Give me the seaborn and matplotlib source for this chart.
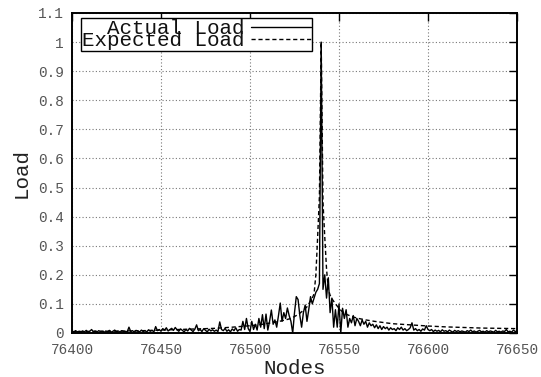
import matplotlib
matplotlib.use("Agg")
import matplotlib.pyplot as plt
import pandas as pd
import seaborn as sns

# ---------------- data ----------------
actual_nodes = list(range(76400, 76651))
actual_load = [
    0.005, 0.003, 0.008, 0.004, 0.006, 0.002, 0.007, 0.004, 0.009, 0.003,
    0.006, 0.012, 0.004, 0.007, 0.003, 0.008, 0.005, 0.006, 0.002, 0.007,
    0.004, 0.009, 0.003, 0.006, 0.010, 0.004, 0.007, 0.003, 0.008, 0.005,
    0.006, 0.004, 0.020, 0.005, 0.008, 0.003, 0.009, 0.006, 0.004, 0.010,
    0.005, 0.008, 0.004, 0.011, 0.006, 0.009, 0.004, 0.022, 0.008, 0.012,
    0.006, 0.015, 0.010, 0.018, 0.007, 0.012, 0.016, 0.009, 0.019, 0.011,
    0.006, 0.014, 0.009, 0.004, 0.012, 0.007, 0.016, 0.010, 0.005, 0.013,
    0.028, 0.008, 0.012, 0.005, 0.015, 0.009, 0.004, 0.013, 0.007, 0.011,
    0.006, 0.010, 0.005, 0.038, 0.012, 0.008, 0.016, 0.006, 0.011, 0.004,
    0.014, 0.008, 0.018, 0.006, 0.012, 0.010, 0.040, 0.012, 0.050, 0.015,
    0.005, 0.040, 0.012, 0.030, 0.010, 0.050, 0.020, 0.063, 0.015, 0.065,
    0.010, 0.040, 0.079, 0.030, 0.045, 0.020, 0.060, 0.103, 0.040, 0.070,
    0.050, 0.086, 0.060, 0.040, 0.000, 0.070, 0.125, 0.115, 0.060, 0.020,
    0.070, 0.096, 0.040, 0.080, 0.125, 0.100, 0.120, 0.140, 0.150, 0.170,
    1.000, 0.150, 0.200, 0.120, 0.190, 0.070, 0.120, 0.020, 0.080, 0.020,
    0.100, 0.000, 0.085, 0.050, 0.080, 0.020, 0.050, 0.035, 0.060, 0.025,
    0.050, 0.040, 0.025, 0.045, 0.030, 0.040, 0.020, 0.035, 0.025, 0.030,
    0.018, 0.028, 0.015, 0.025, 0.012, 0.022, 0.015, 0.020, 0.010, 0.018,
    0.012, 0.015, 0.008, 0.018, 0.012, 0.020, 0.010, 0.015, 0.008, 0.012,
    0.018, 0.035, 0.010, 0.015, 0.008, 0.012, 0.006, 0.014, 0.010, 0.025,
    0.012, 0.008, 0.012, 0.005, 0.010, 0.006, 0.009, 0.004, 0.011, 0.006,
    0.008, 0.004, 0.010, 0.006, 0.003, 0.009, 0.005, 0.008, 0.004, 0.007,
    0.005, 0.003, 0.008, 0.005, 0.010, 0.004, 0.007, 0.003, 0.006, 0.009,
    0.004, 0.006, 0.003, 0.008, 0.004, 0.007, 0.005, 0.003, 0.009, 0.004,
    0.006, 0.003, 0.007, 0.005, 0.012, 0.004, 0.006, 0.003, 0.010, 0.005, 0.007,
]

expected_nodes = [
    76400, 76420, 76440, 76450, 76460, 76470, 76480, 76490, 76500, 76505,
    76510, 76515, 76520, 76523, 76526, 76528, 76530, 76532, 76534, 76535,
    76536, 76537, 76538, 76539, 76540, 76541, 76542, 76543, 76544, 76545,
    76546, 76548, 76550, 76552, 76555, 76558, 76561, 76565, 76570, 76575,
    76580, 76590, 76600, 76610, 76620, 76630, 76640, 76650,
]
expected_load = [
    0.005, 0.006, 0.008, 0.010, 0.012, 0.014, 0.016, 0.020, 0.025, 0.028,
    0.033, 0.038, 0.045, 0.050, 0.060, 0.068, 0.078, 0.090, 0.110, 0.120,
    0.135, 0.200, 0.330, 0.470, 1.000, 0.450, 0.330, 0.220, 0.150, 0.130,
    0.118, 0.100, 0.085, 0.072, 0.062, 0.055, 0.050, 0.045, 0.040, 0.036,
    0.032, 0.028, 0.024, 0.021, 0.019, 0.017, 0.016, 0.015,
]

series_labels = ["  Actual Load", "Expected Load"]
x_ticks = [76400, 76450, 76500, 76550, 76600, 76650]
y_ticks = [0.0, 0.1, 0.2, 0.3, 0.4, 0.5, 0.6, 0.7, 0.8, 0.9, 1.0, 1.1]
y_tick_labels = ["0", "0.1", "0.2", "0.3", "0.4", "0.5", "0.6", "0.7",
                 "0.8", "0.9", "1", "1.1"]

# ---------------- style ----------------
sns.set_theme(style="white")
plt.rcParams["font.family"] = ["Liberation Mono", "DejaVu Sans Mono"]

fig, ax = plt.subplots(figsize=(5.41, 3.77), dpi=100)
fig.subplots_adjust(left=72 / 541, right=517 / 541,
                    top=1 - 13 / 377, bottom=1 - 333 / 377)

df_a = pd.DataFrame({"Nodes": actual_nodes, "Load": actual_load})
df_e = pd.DataFrame({"Nodes": expected_nodes, "Load": expected_load})

sns.lineplot(data=df_a, x="Nodes", y="Load", ax=ax, color="black",
             linewidth=1.0, label=series_labels[0], zorder=3)
sns.lineplot(data=df_e, x="Nodes", y="Load", ax=ax, color="black",
             linewidth=1.0, dashes=(3, 2), label=series_labels[1], zorder=3)

ax.set_xlim(x_ticks[0], x_ticks[-1])
ax.set_ylim(y_ticks[0], y_ticks[-1])
ax.set_xticks(x_ticks)
ax.set_xticklabels([str(t) for t in x_ticks])
ax.set_yticks(y_ticks)
ax.set_yticklabels(y_tick_labels)

ax.grid(True, color="#777777", linestyle=(0, (1, 2)), linewidth=0.8)
ax.set_axisbelow(True)

for s in ax.spines.values():
    s.set_color("black")
    s.set_linewidth(1.4)

ax.tick_params(axis="both", which="major", direction="in", length=5.5,
               width=1.0, color="black", top=True, right=True,
               labelsize=10.4, labelcolor="#555555")
ax.tick_params(axis="x", pad=7)
ax.tick_params(axis="y", pad=6)

ax.set_xlabel("Nodes", fontsize=15, color="#222222", labelpad=2)
ax.set_ylabel("Load", fontsize=15, color="#222222", labelpad=5)

leg = ax.legend(loc="upper left", bbox_to_anchor=(0.0202, 0.984),
                borderaxespad=0, frameon=True, fancybox=False,
                markerfirst=False, fontsize=15, handlelength=2.9,
                handletextpad=0.3, labelspacing=-0.33, borderpad=0.05,
                framealpha=1)
frame = leg.get_frame()
frame.set_edgecolor("black")
frame.set_linewidth(1.0)
for t in leg.get_texts():
    t.set_color("#111111")

fig.savefig("out.png", dpi=100)
